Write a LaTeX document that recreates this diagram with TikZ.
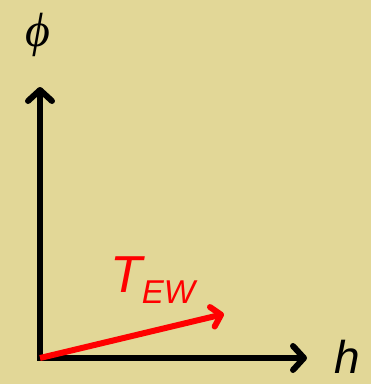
\documentclass[tikz,border=0pt]{standalone}
\usepackage{fontspec}
\setsansfont{Liberation Sans}
\newfontfamily\phifont{Liberation Serif}
\usetikzlibrary{arrows.meta}
\definecolor{BGc}{HTML}{E2D797}
\definecolor{REDc}{HTML}{FF0000}

\begin{document}
\begin{tikzpicture}[
  x=1pt, y=-1pt,
  % axis arrows
  axis/.style={line width=6pt, -{Straight Barb[length=11pt,width=24pt,round]}},
  vec/.style={draw=REDc, line width=6pt, -{Straight Barb[length=9pt,width=20pt,round]}},
  lbl/.style={font=\sffamily\itshape, inner sep=0pt},
]
\fill[BGc] (0,0) rectangle (371,384);

% ---------- axes ----------
\coordinate (O) at (40,358);
\coordinate (Ytop) at (40,87);
\coordinate (Xend) at (307,358);
\draw[axis] ([yshift=3pt]O) -- (Ytop);
\draw[axis] ([xshift=-3pt]O) -- (Xend);

% ---------- labels ----------
\node[inner sep=0pt, font=\fontsize{48}{56}\selectfont\phifont\itshape] (PHI) at (38,35) {ϕ};
\node[lbl, font=\fontsize{46}{54}\selectfont\sffamily\itshape, anchor=base west] (H) at (334,373) {h};

% ---------- EW vector ----------
\coordinate (Vend) at (224,314);
\draw[vec] (O) -- (Vend);
\node[lbl, text=REDc, anchor=base west, font=\fontsize{52}{60}\selectfont\sffamily\itshape] (T) at (110,292)
  {T\fontsize{33}{40}\selectfont\raisebox{-11pt}{EW}};
\end{tikzpicture}
\end{document}
